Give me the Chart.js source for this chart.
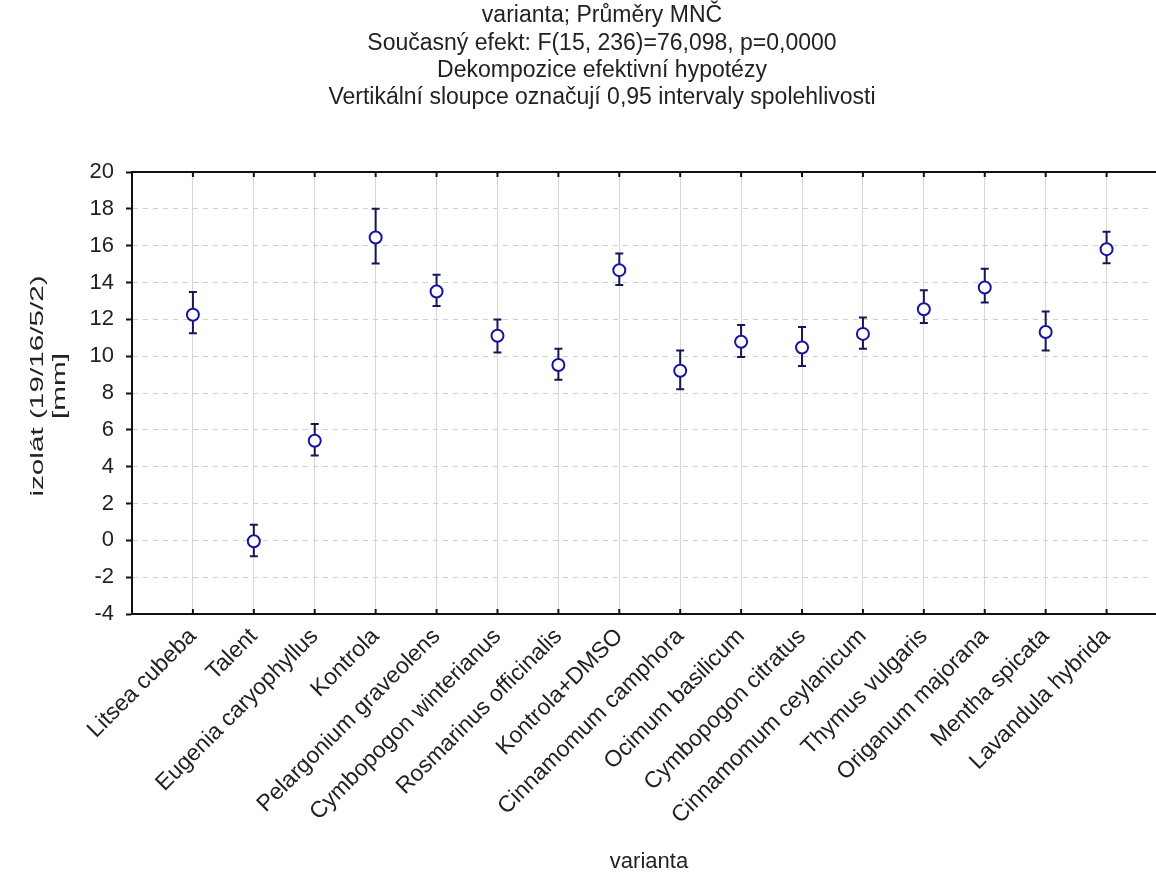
<!DOCTYPE html>
<html>
<head>
<meta charset="utf-8">
<script src="https://cdn.jsdelivr.net/npm/chart.js@4"></script>
<style>
  html, body { margin: 0; padding: 0; background: #fff; overflow: hidden; }
  canvas { display: block; }
</style>
</head>
<body>
<canvas id="chartCanvas" width="1156" height="883"></canvas>
<script>
// --- data ---
const categories = [
  "Litsea cubeba", "Talent", "Eugenia caryophyllus", "Kontrola",
  "Pelargonium graveolens", "Cymbopogon winterianus", "Rosmarinus officinalis",
  "Kontrola+DMSO", "Cinnamomum camphora", "Ocimum basilicum",
  "Cymbopogon citratus", "Cinnamomum ceylanicum", "Thymus vulgaris",
  "Origanum majorana", "Mentha spicata", "Lavandula hybrida"
];
const means   = [12.25, -0.05, 5.41, 16.44, 13.51, 11.11, 9.52, 14.67, 9.21, 10.78, 10.47, 11.21, 12.55, 13.73, 11.31, 15.81];
const ciLower = [11.25, -0.87, 4.61, 15.03, 12.73, 10.20, 8.72, 13.87, 8.21, 9.95, 9.46, 10.40, 11.80, 12.91, 10.31, 15.05];
const ciUpper = [13.48, 0.85, 6.31, 18.00, 14.42, 11.99, 10.40, 15.57, 10.31, 11.69, 11.58, 12.10, 13.58, 14.74, 12.43, 16.75];

const titleLines = [
  "varianta; Průměry MNČ",
  "Současný efekt: F(15, 236)=76,098, p=0,0000",
  "Dekompozice efektivní hypotézy",
  "Vertikální sloupce označují 0,95 intervaly spolehlivosti"
];
const yTitleLines = ["izolát (19/16/5/2)", "[mm]"];
const xTitle = "varianta";

const FONT = "'Liberation Sans', Arial, sans-serif";
const TEXT = "#222";
const MARK = "#1414a0";
const BAR = "#161650";

// error bars (under the markers)
const errorBars = {
  id: "errorBars",
  beforeDatasetsDraw(chart) {
    const { ctx, scales: { x, y } } = chart;
    ctx.save();
    ctx.strokeStyle = BAR;
    ctx.lineWidth = 2;
    means.forEach((m, i) => {
      const px = x.getPixelForValue(i + 1);
      const lo = y.getPixelForValue(ciLower[i]);
      const hi = y.getPixelForValue(ciUpper[i]);
      ctx.beginPath();
      ctx.moveTo(px, lo); ctx.lineTo(px, hi);
      ctx.moveTo(px - 4, lo); ctx.lineTo(px + 4, lo);
      ctx.moveTo(px - 4, hi); ctx.lineTo(px + 4, hi);
      ctx.stroke();
    });
    ctx.restore();
  }
};

// small tick marks inside the frame, top and bottom; frame runs off to the right edge
const innerTicks = {
  id: "innerTicks",
  afterDraw(chart) {
    const { ctx, chartArea: a, scales: { x } } = chart;
    ctx.save();
    ctx.strokeStyle = "#111";
    ctx.lineWidth = 2;
    ctx.beginPath();
    ctx.moveTo(a.right - 1, a.top); ctx.lineTo(chart.width, a.top);
    ctx.moveTo(a.right - 1, a.bottom); ctx.lineTo(chart.width, a.bottom);
    categories.forEach((c, i) => {
      const px = x.getPixelForValue(i + 1);
      ctx.moveTo(px, a.bottom); ctx.lineTo(px, a.bottom - 5);
      ctx.moveTo(px, a.top); ctx.lineTo(px, a.top + 5);
    });
    ctx.stroke();
    ctx.restore();
  }
};

// titles
const texts = {
  id: "texts",
  afterDraw(chart) {
    const { ctx, chartArea: a } = chart;
    ctx.save();
    ctx.fillStyle = TEXT;
    ctx.textAlign = "center";
    ctx.textBaseline = "middle";
    ctx.font = "23px " + FONT;
    titleLines.forEach((t, i) => ctx.fillText(t, 602, 16 + i * 27.3));

    ctx.font = "22px " + FONT;
    ctx.fillText(xTitle, 649, 862);

    // y title is drawn stretched along its length, as in the picture
    ctx.font = "18px " + FONT;
    yTitleLines.forEach((t, i) => {
      ctx.save();
      ctx.translate(38 + i * 22, 386);
      ctx.rotate(-Math.PI / 2);
      ctx.scale(1.65, 1);
      ctx.fillText(t, 0, 0);
      ctx.restore();
    });
    ctx.restore();
  }
};

new Chart(document.getElementById("chartCanvas"), {
  type: "scatter",
  data: {
    datasets: [{
      data: means.map((m, i) => ({ x: i + 1, y: m })),
      pointStyle: "circle",
      pointRadius: 6,
      pointHoverRadius: 6,
      pointBorderWidth: 2,
      borderColor: MARK,
      backgroundColor: "#fff"
    }]
  },
  options: {
    responsive: false,
    devicePixelRatio: 1,
    animation: false,
    layout: { padding: { top: 172, left: 0, right: 0, bottom: 0 } },
    plugins: {
      legend: { display: false },
      tooltip: { enabled: false }
    },
    scales: {
      x: {
        type: "linear",
        position: "bottom",
        min: 0,
        max: 16.68,
        afterBuildTicks: s => { s.ticks = categories.map((c, i) => ({ value: i + 1 })); },
        afterFit: s => { s.height = 883 - 614; },
        ticks: {
          autoSkip: false,
          minRotation: 45,
          maxRotation: 45,
          padding: 9,
          color: TEXT,
          font: { family: FONT, size: 23 },
          callback: v => categories[v - 1] || ""
        },
        grid: { color: "#d6d6d6", lineWidth: 1, drawTicks: false },
        border: { display: true, color: "#111", width: 2 }
      },
      xTop: {
        type: "linear",
        position: "top",
        min: 0,
        max: 16.68,
        afterFit: s => { s.height = 0; },
        ticks: { display: false },
        grid: { display: false, drawTicks: false },
        border: { display: true, color: "#111", width: 2 }
      },
      y: {
        min: -4,
        max: 20,
        afterFit: s => { s.width = 132; },
        ticks: {
          stepSize: 2,
          padding: 12,
          color: TEXT,
          font: { family: FONT, size: 22 }
        },
        grid: {
          color: "#d0d0d0",
          lineWidth: 1,
          tickLength: 6,
          tickColor: "#111",
          tickWidth: 2,
          tickBorderDash: []
        },
        border: { display: true, color: "#111", width: 2, dash: [5, 5] }
      }
    }
  },
  plugins: [errorBars, innerTicks, texts]
});
</script>
</body>
</html>
